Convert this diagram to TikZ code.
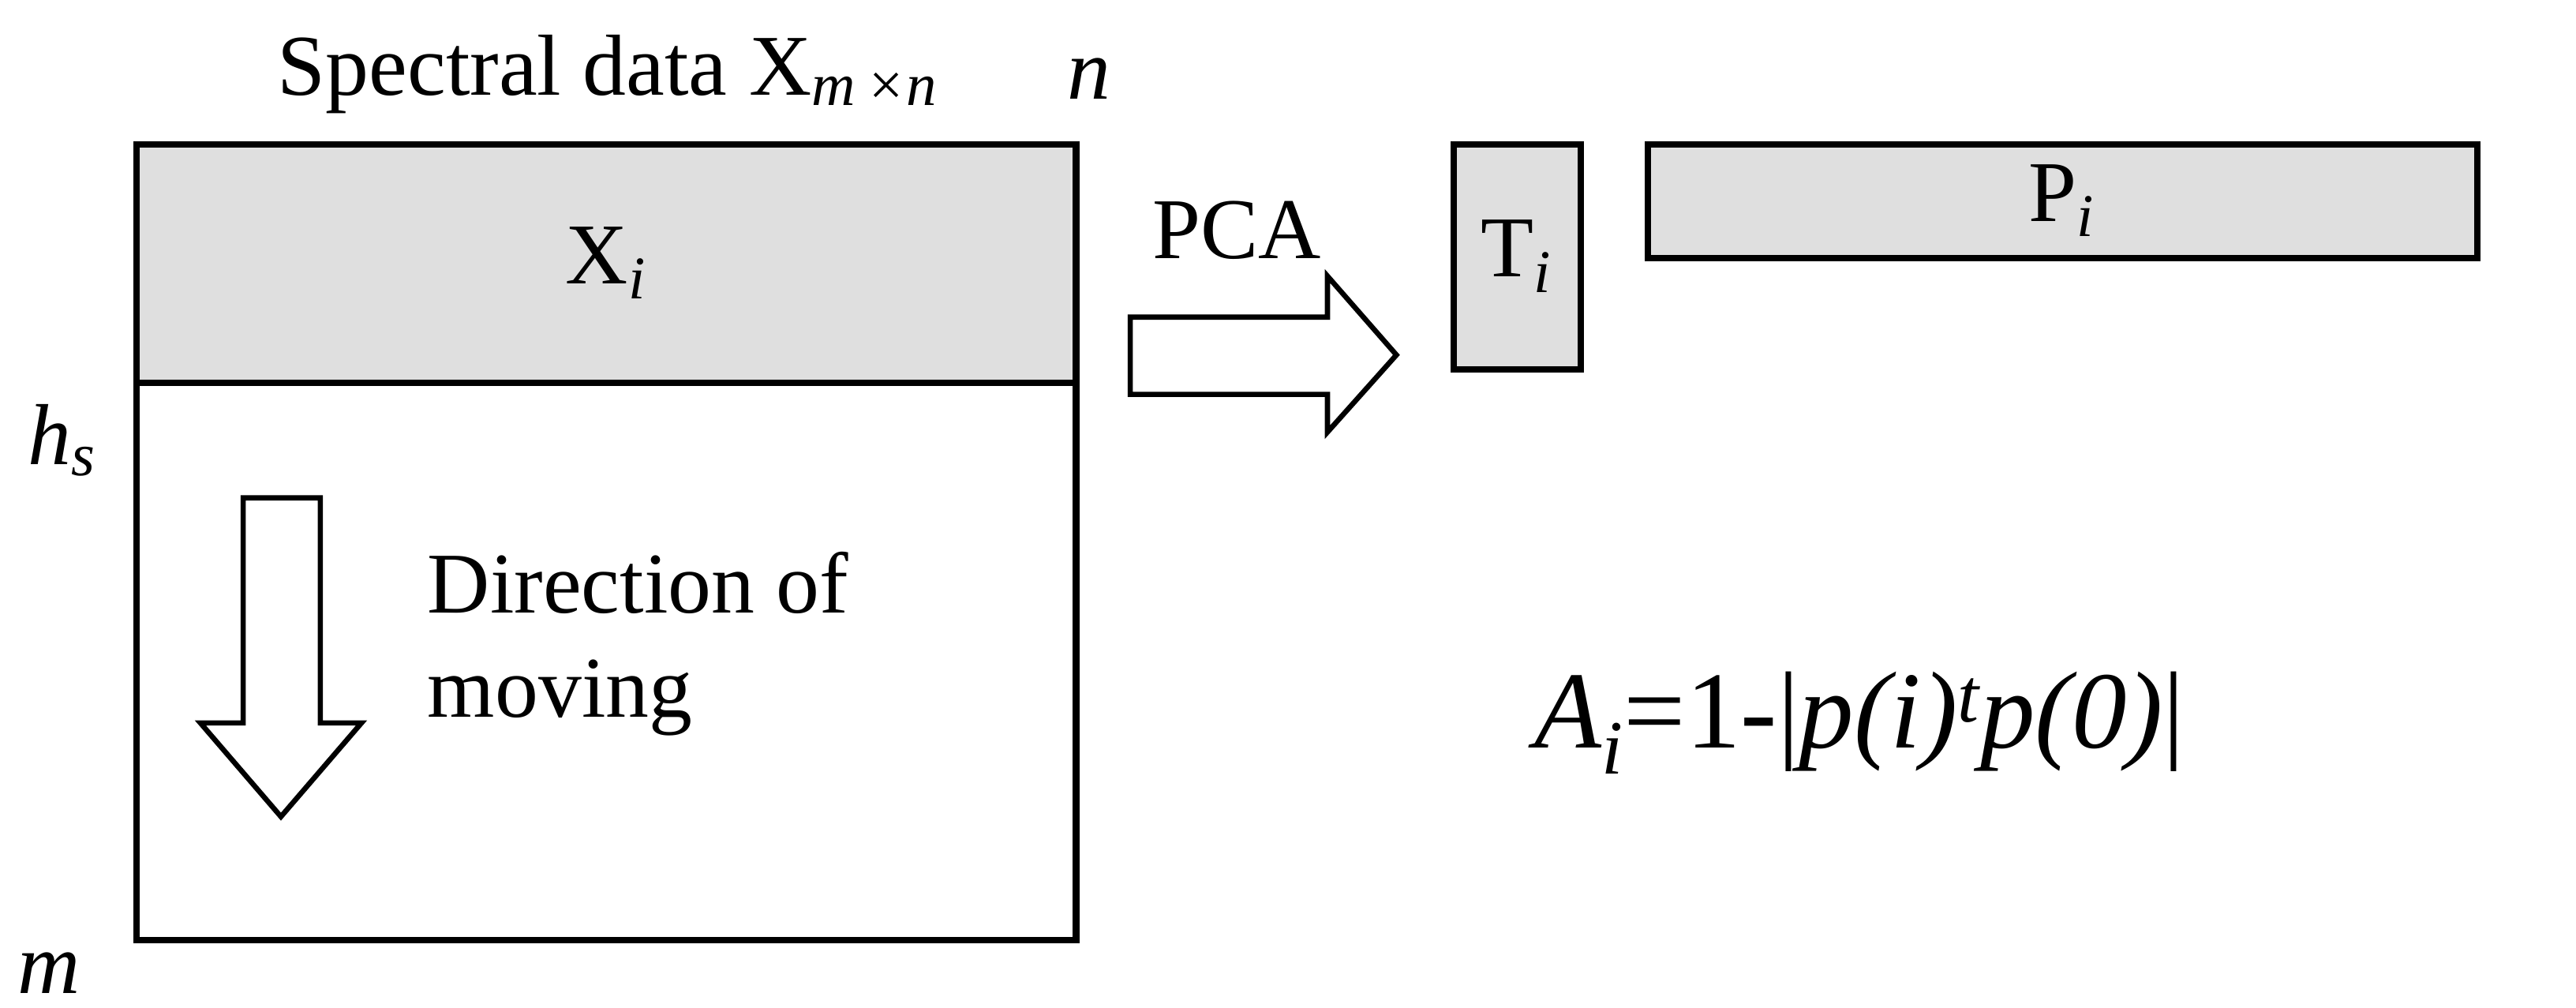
\documentclass[tikz,border=0pt]{standalone}
\usepackage{fontspec}
\setmainfont{Liberation Serif}
\begin{document}
\begin{tikzpicture}[x=0.02cm,y=-0.02cm,
  box/.style={draw,line width=2.2pt},
  gbox/.style={draw,line width=2.2pt,fill=gray!25},
  arr/.style={draw,line width=1.8pt,fill=white},
  lab/.style={font=\fontsize{30}{36}\selectfont,inner sep=0pt}]
\useasboundingbox (0,0) rectangle (1568,613);
\path[gbox] (83,88) rectangle (655,233);
\path[box] (83,88) rectangle (655,572);
\draw[line width=2.2pt] (83,233) -- (655,233);
\node[lab] (xil) at (369,160) {X\textsubscript{\itshape i}};
\node[lab] (title) at (370,45) {Spectral data X\textsubscript{\itshape m\,×n}};
\node[lab] (n) at (663,48) {\itshape n};
\node[lab] (hs) at (38,268) {\itshape h\textsubscript{s}};
\node[lab] (m) at (30,592) {\itshape m};
\path[arr] (148,303) -- (195,303) -- (195,440) -- (220,440) -- (171,497) -- (122,440) -- (148,440) -- cycle;
\node[lab,align=left,anchor=west] (dir) at (260,392) {Direction of\\moving};
\path[arr] (688,193) -- (808,193) -- (808,168) -- (850,216) -- (808,263) -- (808,240) -- (688,240) -- cycle;
\node[lab] (pca) at (753,140) {PCA};
\path[gbox] (885,88) rectangle (962,225);
\node[lab] (ti) at (923,156) {T\textsubscript{\itshape i}};
\path[gbox] (1003,88) rectangle (1508,157);
\node[lab] (pi) at (1255,122) {P\textsubscript{\itshape i}};
\node[lab,font=\fontsize{38}{42}\selectfont\itshape] (f) at (1132,440) {A\textsubscript{i}\upshape=1-\textbar{}\itshape p(i)\textsuperscript{t}p(0)\upshape\textbar};
\end{tikzpicture}
\end{document}
